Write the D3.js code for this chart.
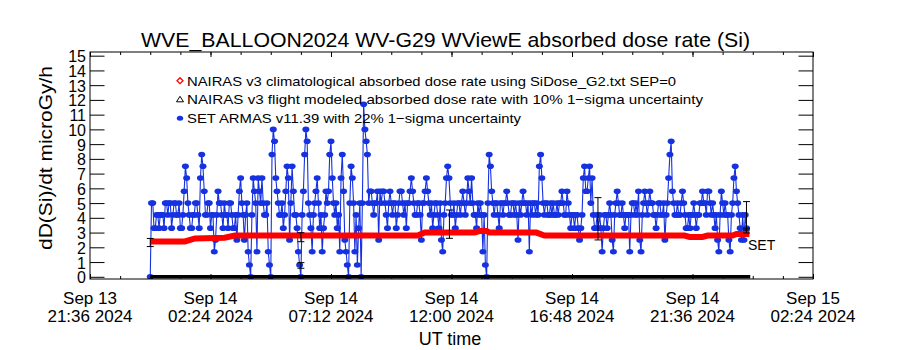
<!DOCTYPE html>
<html>
<head>
<meta charset="utf-8">
<title>WVE_BALLOON2024 WV-G29 absorbed dose rate</title>
<script src="https://cdn.jsdelivr.net/npm/d3@7"></script>
<style>
  body { margin: 0; background: #fff; }
  text { font-family: "Liberation Sans", Arial, sans-serif; fill: #000; }
</style>
</head>
<body>
<svg id="chart" width="900" height="350"></svg>
<script>
// x axis tick times (UT) and y axis ticks
var xTicks = ["2024-09-13T21:36:00Z", "2024-09-14T02:24:00Z", "2024-09-14T07:12:00Z",
  "2024-09-14T12:00:00Z", "2024-09-14T16:48:00Z", "2024-09-14T21:36:00Z", "2024-09-15T02:24:00Z"];
var yTicks = [0, 1, 2, 3, 4, 5, 6, 7, 8, 9, 10, 11, 12, 13, 14, 15];

// SET ARMAS dose rate (microGy/h), one reading every 3 min from Sep 14 00:00 UT, one row per hour
var setStart = "2024-09-14T00:00:00Z", setStepMin = 3;
var setDose = [
  [0, 5, 5, 3.3, 3.3, 4.2, 4.2, 3.3, 4.2, 4.2, 4.2, 3.3, 5, 5, 4.2, 5, 5, 3.3, 4.2, 5],
  [5, 4.2, 4.2, 5, 3.3, 3.3, 4.2, 5.8, 7.5, 6.7, 5, 4.2, 3.3, 3.3, 4.2, 4.2, 5, 5, 4.2, 3.3],
  [6.7, 8.3, 7.5, 5.8, 4.2, 4.2, 5, 5, 3.3, 4.2, 4.2, 1.7, 2.5, 4.2, 5.8, 5, 5, 4.2, 3.3, 5],
  [4.2, 4.2, 3.3, 5, 5, 4.2, 3.3, 3.3, 4.2, 2.5, 4.2, 5.8, 6.7, 5, 4.2, 2.5, 4.2, 5, 1.7, 0.8],
  [0, 4.2, 6.7, 5.8, 5, 1.7, 6.7, 5.8, 5, 6.7, 5, 4.2, 4.2, 5, 1.7, 0.8, 0, 8.3, 10, 9.2],
  [6.7, 5.8, 5, 4.2, 4.2, 5, 3.3, 4.2, 5.8, 7.5, 6.7, 2.5, 5, 7.5, 5.8, 4.2, 4.2, 3.3, 1.7, 0.8],
  [0, 4.2, 5.8, 8.3, 10, 9.2, 5, 4.2, 3.3, 1.7, 4.2, 5, 5.8, 6.7, 5, 3.3, 4.2, 1.7, 3.3, 4.2],
  [5.8, 5, 5.8, 8.3, 9.2, 6.7, 5, 4.2, 5, 3.3, 4.2, 1.7, 6.7, 8.3, 5.8, 2.5, 1.7, 0.8, 0, 5],
  [7.5, 6.7, 5, 1.7, 4.2, 0.8, 3.3, 5, 0, 5, 11.7, 10, 9.2, 8.3, 5, 5.8, 5.8, 5, 4.2, 5],
  [5, 5.8, 2.5, 5.8, 5, 5.8, 5.8, 5, 4.2, 3.3, 5, 5.8, 5, 4.2, 5, 5, 3.3, 4.2, 5, 5.8],
  [5.8, 5, 4.2, 5, 3.3, 5, 5, 5.8, 6.7, 5.8, 5, 4.2, 4.2, 5, 5, 4.2, 2.5, 5, 5, 5.8],
  [6.7, 5.8, 5, 4.2, 5, 3.3, 4.2, 5, 5, 4.2, 3.3, 5, 2.5, 1.7, 4.2, 5, 6.7, 7.5, 6.7, 5],
  [4.2, 4.2, 5, 3.3, 4.2, 5, 5, 4.2, 5, 5.8, 5, 4.2, 5, 6.7, 5.8, 5, 6.7, 5, 4.2, 4.2],
  [3.3, 5, 4.2, 5, 4.2, 1.7, 4.2, 0.8, 0, 5, 8.3, 7.5, 5.8, 5, 4.2, 5, 5, 4.2, 3.3, 5],
  [5, 4.2, 5, 5, 5.8, 5, 4.2, 4.2, 5, 5, 4.2, 5, 4.2, 2.5, 5, 4.2, 5, 5.8, 5, 5],
  [4.2, 5, 1.7, 5, 4.2, 5, 5, 4.2, 5, 4.2, 7.5, 8.3, 6.7, 5, 4.2, 5, 5, 4.2, 4.2, 5],
  [4.2, 5, 4.2, 4.2, 5, 4.2, 5, 5, 5.8, 5, 4.2, 4.2, 5.8, 5, 4.2, 3.3, 4.2, 4.2, 3.3, 4.2],
  [4.2, 3.3, 2.5, 3.3, 4.2, 6.7, 7.5, 5.8, 5.8, 6.7, 7.5, 5, 6.7, 4.2, 3.3, 3.3, 4.2, 3.3, 4.2, 3.3],
  [1.7, 3.3, 4.2, 4.2, 3.3, 4.2, 5, 4.2, 2.5, 1.7, 4.2, 5, 5.8, 5, 4.2, 4.2, 5, 4.2, 3.3, 4.2],
  [4.2, 4.2, 1.7, 4.2, 5, 5, 4.2, 5, 4.2, 5.8, 2.5, 1.7, 4.2, 5, 5.8, 5, 4.2, 5, 5.8, 5],
  [5, 4.2, 4.2, 3.3, 4.2, 5, 5, 4.2, 4.2, 5, 2.5, 4.2, 5, 6.7, 8.3, 9.2, 5.8, 5, 4.2, 4.2],
  [5, 4.2, 4.2, 5, 5.8, 5, 4.2, 3.3, 3.3, 4.2, 3.3, 4.2, 4.2, 5, 4.2, 3.3, 4.2, 4.2, 5, 5],
  [5.8, 5, 5, 4.2, 5.8, 5.8, 5, 4.2, 5, 4.2, 3.3, 4.2, 2.5, 1.7, 4.2, 5.8, 5, 4.2, 5, 4.2],
  [4.2, 2.5, 1.7, 4.2, 5, 6.7, 7.5, 5.8, 5, 4.2, 3.3, 2.5, 4.2, 2.5, 4.2, 3.3]
];

// NAIRAS v3 climatological dose rate (red)
var climTimes = ["00:00", "01:23", "01:47", "02:58", "03:22", "10:39", "10:56", "12:55", "13:07",
  "13:24", "13:31", "15:23", "15:42", "21:17", "21:29", "22:00", "22:12", "23:12", "23:21", "23:52"];
var climDose = [2.4, 2.4, 2.6, 2.65, 2.8, 2.8, 3.0, 3.0, 3.1, 3.1, 3.0, 3.0, 2.8, 2.8, 2.7, 2.7, 2.8, 2.8, 2.9, 2.9];

// NAIRAS v3 flight modeled dose rate (black)
var flightTimes = ["00:00", "23:54"];
var flightDose = [0, 0];

// error bars (1-sigma)
var errTimes = ["00:00", "06:00", "06:00", "11:55", "17:50", "23:45", "23:45"];
var errLow = [2.05, 2.38, 0.58, 2.61, 2.5, 3.17, 2.97];
var errHigh = [2.6, 2.99, 0.96, 4.53, 5.37, 5.1, 3.3];

var blue = "#1632e0";

var svg = d3.select("#chart");
var plotL = 90, plotR = 813, plotT = 52, plotB = 279;

var x = d3.scaleUtc()
  .domain([new Date(xTicks[0]), new Date(xTicks[xTicks.length - 1])])
  .range([plotL, plotR]);
var y = d3.scaleLinear().domain([-0.15, 15.25]).range([plotB, plotT]);

function day14(hm) { return new Date("2024-09-14T" + hm + ":00Z"); }

var setData = [];
setDose.forEach(function (row) {
  row.forEach(function (v) {
    var t = new Date(Date.parse(setStart) + setData.length * setStepMin * 60000);
    setData.push({ t: t, v: v });
  });
});
var climData = climTimes.map((t, i) => ({ t: day14(t), v: climDose[i] }));
var flightData = flightTimes.map((t, i) => ({ t: day14(t), v: flightDose[i] }));

svg.append("clipPath").attr("id", "plot-clip")
  .append("rect").attr("x", plotL).attr("y", plotT)
  .attr("width", plotR - plotL).attr("height", plotB - plotT);

var line = d3.line().x(d => x(d.t)).y(d => y(d.v));
var plot = svg.append("g").attr("clip-path", "url(#plot-clip)");

// SET ARMAS series
plot.append("path")
  .datum(setData)
  .attr("d", line)
  .attr("fill", "none")
  .attr("stroke", blue)
  .attr("stroke-width", 1.1);

plot.append("g").selectAll("ellipse")
  .data(setData)
  .enter()
  .append("ellipse")
  .attr("cx", d => x(d.t))
  .attr("cy", d => y(d.v))
  .attr("rx", 3.5)
  .attr("ry", 2.8)
  .attr("fill", blue);

// climatological series
plot.append("path")
  .datum(climData)
  .attr("d", line)
  .attr("fill", "none")
  .attr("stroke", "#ff0000")
  .attr("stroke-width", 6);

// flight modeled series
plot.append("path")
  .datum(flightData)
  .attr("d", line)
  .attr("fill", "none")
  .attr("stroke", "#000")
  .attr("stroke-width", 3.5);

// error bars
var eb = plot.append("g").attr("stroke", "#000").attr("stroke-width", 1)
  .selectAll("g")
  .data(errTimes.map((t, i) => ({ t: day14(t), lo: errLow[i], hi: errHigh[i] })))
  .enter()
  .append("g");
eb.append("line")
  .attr("x1", d => x(d.t)).attr("x2", d => x(d.t))
  .attr("y1", d => y(d.lo)).attr("y2", d => y(d.hi));
eb.append("line")
  .attr("x1", d => x(d.t) - 3.5).attr("x2", d => x(d.t) + 3.5)
  .attr("y1", d => y(d.lo)).attr("y2", d => y(d.lo));
eb.append("line")
  .attr("x1", d => x(d.t) - 3.5).attr("x2", d => x(d.t) + 3.5)
  .attr("y1", d => y(d.hi)).attr("y2", d => y(d.hi));

svg.append("text")
  .attr("x", 748).attr("y", 250)
  .style("font-size", "14px")
  .text("SET");

// axes, IDL style: ticks pointing into the plot
var t0 = Date.parse(xTicks[0]);
var xMinor = d3.range(0, 25).map(i => new Date(t0 + i * 72 * 60000));

function addX(axisFn, ypos, vals, len) {
  svg.append("g")
    .attr("transform", "translate(0," + ypos + ")")
    .call(axisFn(x).tickValues(vals).tickSize(len).tickFormat(""))
    .call(g => g.select(".domain").remove());
}
addX(d3.axisBottom, plotB, xMinor, -3);
addX(d3.axisBottom, plotB, xTicks.map(d => new Date(d)), -5);
addX(d3.axisTop, plotT, xMinor, -3);
addX(d3.axisTop, plotT, xTicks.map(d => new Date(d)), -5);

var gy = svg.append("g")
  .attr("transform", "translate(" + plotL + ",0)")
  .call(d3.axisLeft(y).tickValues(yTicks).tickSize(-14.5).tickPadding(4).tickFormat(d3.format("d")));
gy.select(".domain").remove();
gy.selectAll("text")
  .attr("dy", "0.38em")
  .style("font-size", "16px")
  .style("font-family", "'Liberation Sans', Arial, sans-serif");

svg.append("g")
  .attr("transform", "translate(" + plotR + ",0)")
  .call(d3.axisRight(y).tickValues(yTicks).tickSize(-14.5).tickFormat(""))
  .call(g => g.select(".domain").remove());

svg.selectAll(".tick line").attr("stroke", "#000");

svg.append("rect")
  .attr("x", plotL).attr("y", plotT)
  .attr("width", plotR - plotL).attr("height", plotB - plotT)
  .attr("fill", "none").attr("stroke", "#000");

// two-line date labels
var fmtDay = d3.utcFormat("%b %d"), fmtTime = d3.utcFormat("%H:%M %Y");
var xDates = xTicks.map(d => new Date(d));
svg.append("g").selectAll("text")
  .data(xDates)
  .enter()
  .append("text")
  .attr("x", d => x(d)).attr("y", 304)
  .attr("text-anchor", "middle")
  .style("font-size", "17px")
  .text(d => fmtDay(d));
svg.append("g").selectAll("text")
  .data(xDates)
  .enter()
  .append("text")
  .attr("x", d => x(d)).attr("y", 322)
  .attr("text-anchor", "middle")
  .style("font-size", "17px")
  .text(d => fmtTime(d));

svg.append("text")
  .attr("x", 450).attr("y", 345)
  .attr("text-anchor", "middle")
  .style("font-size", "18px")
  .text("UT time");

svg.append("text")
  .attr("transform", "translate(52,158) rotate(-90)")
  .attr("text-anchor", "middle")
  .attr("textLength", 184)
  .attr("lengthAdjust", "spacingAndGlyphs")
  .style("font-size", "19px")
  .text("dD(Si)/dt microGy/h");

svg.append("text")
  .attr("x", 141).attr("y", 47)
  .attr("textLength", 609)
  .attr("lengthAdjust", "spacingAndGlyphs")
  .style("font-size", "21px")
  .text("WVE_BALLOON2024 WV-G29 WViewE absorbed dose rate (Si)");

// legend
var legend = [
  { label: "NAIRAS v3 climatological absorbed dose rate using SiDose_G2.txt SEP=0", len: 489 },
  { label: "NAIRAS v3 flight modeled absorbed dose rate with 10% 1\u2212sigma uncertainty", len: 516 },
  { label: "SET ARMAS v11.39 with 22% 1\u2212sigma uncertainty", len: 334 }
];
var ly = [80.7, 99.3, 118.3];
legend.forEach(function (d, i) {
  svg.append("text")
    .attr("x", 187).attr("y", ly[i] + 4.8)
    .attr("textLength", d.len)
    .attr("lengthAdjust", "spacingAndGlyphs")
    .style("font-size", "13.5px")
    .text(d.label);
});
svg.append("path")
  .attr("d", "M180," + (ly[0] - 3) + "L183," + ly[0] + "L180," + (ly[0] + 3) + "L177," + ly[0] + "Z")
  .attr("fill", "none").attr("stroke", "#ff0000").attr("stroke-width", 1.3);
svg.append("path")
  .attr("d", "M180," + (ly[1] - 3) + "L183.5," + (ly[1] + 2.5) + "L176.5," + (ly[1] + 2.5) + "Z")
  .attr("fill", "none").attr("stroke", "#000").attr("stroke-width", 1);
svg.append("ellipse")
  .attr("cx", 180).attr("cy", ly[2]).attr("rx", 3.2).attr("ry", 2.5)
  .attr("fill", blue);
</script>
</body>
</html>
